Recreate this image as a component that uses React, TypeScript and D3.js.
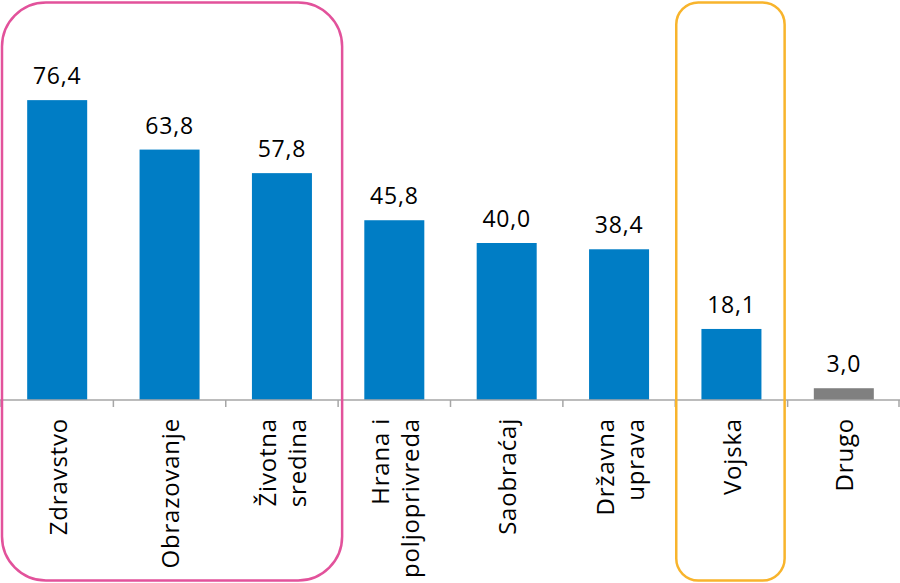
import React from "react";
import * as d3 from "d3";

const categories = ["Zdravstvo", "Obrazovanje", "Životna\nsredina", "Hrana i\npoljoprivreda", "Saobraćaj", "Državna\nuprava", "Vojska", "Drugo"];
const values = [76.4, 63.8, 57.8, 45.8, 40.0, 38.4, 18.1, 3.0];
const valueLabels = ["76,4", "63,8", "57,8", "45,8", "40,0", "38,4", "18,1", "3,0"];
const highlightGroups = [
  { from: 0, to: 2, color: "#E2529B", radius: 44 },
  { from: 6, to: 6, color: "#F8B42C", radius: 22 },
];

const W = 900;
const H = 583;
const FONT = "'Open Sans', Lato, sans-serif";

export default function App() {
  const x = d3.scaleBand<number>().domain(d3.range(categories.length)).range([1, 900]).paddingInner(0.466).paddingOuter(0.233);
  const y = d3.scaleLinear().domain([0, 80]).range([400, 86]);
  const step = x.step();
  const bandStart = (i: number) => (x(i) as number) - x.paddingOuter() * step;
  const y0 = y(0);

  return (
    <svg width={W} height={H} style={{ position: "absolute", left: 0, top: 0, background: "#fff" }}>
      {values.map((v, i) => (
        <rect key={"b" + i} x={x(i)} y={y(v)} width={x.bandwidth()} height={y0 - y(v)} fill={i === values.length - 1 ? "#808080" : "#007DC5"} />
      ))}
      <line x1={0} x2={W} y1={y0} y2={y0} stroke="#A6A6A6" strokeWidth={1.5} />
      {d3.range(categories.length + 1).map((i) => {
        const xx = Math.min(bandStart(0) + i * step, W - 1);
        return <line key={"t" + i} x1={xx} x2={xx} y1={y0} y2={y0 + 7} stroke="#A6A6A6" strokeWidth={1.5} />;
      })}
      {values.map((v, i) => (
        <text key={"v" + i} x={(x(i) as number) + x.bandwidth() / 2} y={y(v) - 16} textAnchor="middle" fontFamily={FONT} fontSize={23} letterSpacing={0.8} fill="#000">
          {valueLabels[i]}
        </text>
      ))}
      {categories.map((c, i) => {
        const lines = c.split("\n");
        const cx = (x(i) as number) + x.bandwidth() / 2;
        return (
          <text key={"c" + i} transform={`translate(${cx},418) rotate(-90)`} textAnchor="end" fontFamily={FONT} fontSize={24} letterSpacing={0.8} fill="#000">
            {lines.map((l, j) => (
              <tspan key={j} x={0} y={lines.length === 1 ? 9.5 : j === 0 ? -5.5 : 24.5}>
                {l}
              </tspan>
            ))}
          </text>
        );
      })}
      {highlightGroups.map((g, k) => {
        const left = k === 0 ? 2 : bandStart(g.from) + 1;
        const right = bandStart(g.to) + step - (k === 0 ? -4 : 3);
        return (
          <rect key={"h" + k} x={left} y={2.5} width={right - left} height={578} rx={g.radius} ry={g.radius} fill="none" stroke={g.color} strokeWidth={2.5} />
        );
      })}
    </svg>
  );
}
